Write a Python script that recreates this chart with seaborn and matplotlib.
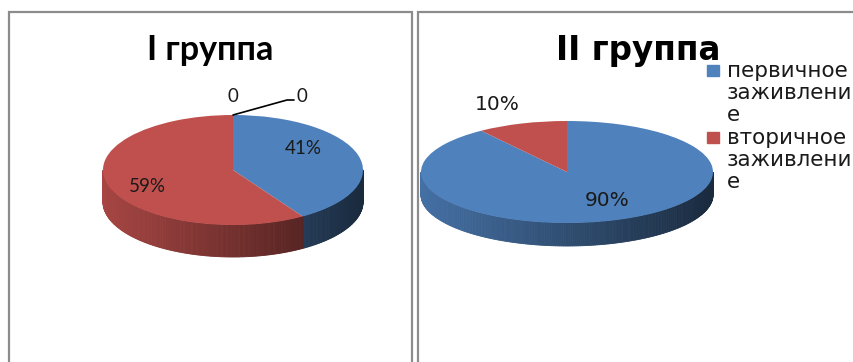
import numpy as np
import matplotlib
matplotlib.use("Agg")
import matplotlib.pyplot as plt
import seaborn as sns
from matplotlib.patches import Rectangle

# ---- data ----
categories = ["первичное заживление", "вторичное заживление"]
legend_labels = ["первичное\nзаживлени\nе", "вторичное\nзаживлени\nе"]
group_titles = ["I группа", "II группа"]
group1_values = [41, 59]
group2_values = [90, 10]
group1_zero_labels = [0, 0]
colors = ["#4F81BD", "#C0504D"]

sns.set_theme(style="white")
plt.rcParams["font.family"] = ["Lato", "DejaVu Sans"]

W, H = 854, 362
fig = plt.figure(figsize=(W / 100, H / 100), dpi=100)
fig.patch.set_facecolor("white")


def shade(hex_color, x):
    rgb = np.array(matplotlib.colors.to_rgb(hex_color))
    f = 0.60 - 0.27 * x
    return tuple(np.clip(rgb * f, 0, 1))


def pie3d(values, cx, cy, rx, ry, depth_px, pct_font, pct_size):
    ax = fig.add_axes([0, 0, 1, 1])
    ax.patch.set_alpha(0)
    wedges, texts, autotexts = ax.pie(
        values, colors=colors, startangle=90, counterclock=False,
        autopct=lambda p: f"{p:.0f}%", wedgeprops=dict(linewidth=0),
        textprops=dict(fontsize=pct_size, family=pct_font, color="#1a1a1a"))
    ax.set_aspect("auto")
    ax.set_xlim(-cx / rx, (W - cx) / rx)
    ax.set_ylim(-(H - cy) / ry, cy / ry)
    ax.axis("off")
    d = depth_px / ry
    for w, c in zip(wedges, colors):
        t = np.arange(w.theta1, w.theta2 + 1e-9, 0.75)
        if t[-1] < w.theta2:
            t = np.append(t, w.theta2)
        for a, b in zip(t[:-1], t[1:]):
            m = np.deg2rad((a + b) / 2)
            if np.sin(m) >= 0:
                continue
            ar, br = np.deg2rad(a), np.deg2rad(b)
            xs = [np.cos(ar), np.cos(br), np.cos(br), np.cos(ar)]
            ys = [np.sin(ar), np.sin(br), np.sin(br) - d, np.sin(ar) - d]
            col = shade(c, np.cos(m))
            ax.fill(xs, ys, color=col, lw=0.6, ec=col, zorder=0.5)

    def to_data(px, py):
        return ((px - cx) / rx, (cy - py) / ry)

    return ax, autotexts, to_data


# ---- left pie ----
ax1, at1, p1 = pie3d(group1_values, 233, 170, 130, 55, 32, ["Lato", "DejaVu Sans"], 13.5)
at1[0].set_position(p1(303, 148))
at1[1].set_position(p1(147, 186))
# zero-value labels at the top of the pie
ax1.text(*p1(233, 97), str(group1_zero_labels[0]), ha="center", va="center",
         fontsize=13.5, family=["Lato", "DejaVu Sans"], color="#1a1a1a")
lx, ly = zip(p1(233, 115), p1(287, 100), p1(294, 100))
ax1.plot(lx, ly, color="black", lw=1.2)
ax1.text(*p1(302, 97), str(group1_zero_labels[1]), ha="center", va="center",
         fontsize=13.5, family=["Lato", "DejaVu Sans"], color="#1a1a1a")

# ---- right pie ----
ax2, at2, p2 = pie3d(group2_values, 567, 172, 146, 51, 23, ["DejaVu Sans"], 14.5)
at2[0].set_position(p2(607, 201))
at2[1].set_position(p2(497, 104))

# ---- titles ----
fig.text(210 / W, 1 - 60 / H, group_titles[0], ha="center", va="baseline",
         fontsize=24.5, fontweight="bold", family=["Lato", "DejaVu Sans"], color="black")
fig.text(638 / W, 1 - 60 / H, group_titles[1], ha="center", va="baseline",
         fontsize=23.5, fontweight="bold", family=["DejaVu Sans"], color="black")

# ---- legend ----
line_i = 0
for lab, c in zip(legend_labels, colors):
    base = 77 + line_i * 22.2
    fig.add_artist(Rectangle((707 / W, 1 - (base - 1) / H), 12 / W, 11 / H,
                             transform=fig.transFigure, color=c))
    for ln in lab.split("\n"):
        fig.text(727 / W, 1 - (77 + line_i * 22.2) / H, ln, ha="left", va="baseline",
                 fontsize=15.5, family=["DejaVu Sans"], color="#1a1a1a")
        line_i += 1

# ---- panel borders ----
for x0, x1 in [(9, 412), (418, 870)]:
    fig.add_artist(Rectangle((x0 / W, -0.1), (x1 - x0) / W, 1.1 - 12 / H,
                             transform=fig.transFigure, fill=False,
                             ec="#8c8c8c", lw=1.6))

fig.savefig("out.png", dpi=100)
